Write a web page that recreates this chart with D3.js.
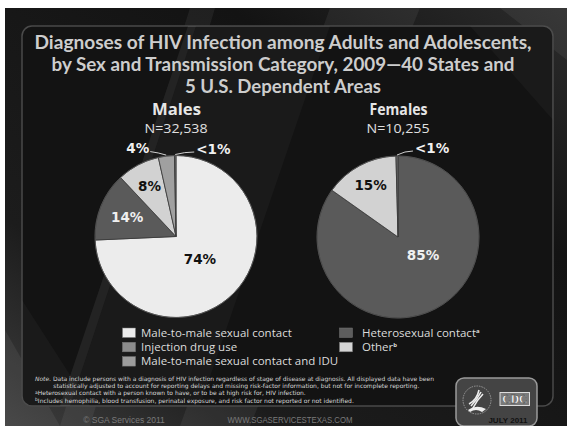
<!DOCTYPE html>
<html><head><meta charset="utf-8">
<script src="https://cdn.jsdelivr.net/npm/d3@7"></script>
<style>html,body{margin:0;padding:0;background:#fff;}svg{display:block;}</style>
</head><body>
<script>
// ---------------- DATA ----------------
const titleLines = ["Diagnoses of HIV Infection among Adults and Adolescents,",
  "by Sex and Transmission Category, 2009\u201440 States and",
  "5 U.S. Dependent Areas"];
const pieNames = ["Males", "Females"];
const pieTotals = ["N=32,538", "N=10,255"];
// Males, clockwise from 12 o'clock
const maleCategories = ["Male-to-male sexual contact", "Heterosexual contact", "Injection drug use", "Male-to-male sexual contact and IDU", "Other"];
const maleValues = [74.3, 13.7, 8.5, 3.2, 0.3];
const maleLabels = ["74%", "14%", "8%", "4%", "<1%"];
// Females, clockwise from 12 o'clock
const femaleCategories = ["Heterosexual contact", "Injection drug use", "Other"];
const femaleValues = [84.8, 14.8, 0.4];
const femaleLabels = ["85%", "15%", "<1%"];
// Legend
const legendCol1 = ["Male-to-male sexual contact", "Injection drug use", "Male-to-male sexual contact and IDU"];
const legendCol2 = ["Heterosexual contact", "Other"];
const legendSup = {"Heterosexual contact": "a", "Other": "b"};
const footnotes = [
  ["Note.", " Data include persons with a diagnosis of HIV infection regardless of stage of  disease at diagnosis.  All displayed data have been"],
  ["", "statistically adjusted to account for reporting delays  and missing risk-factor information, but not for incomplete reporting."],
  ["a", "Heterosexual contact with a person known to have, or to be at high risk for, HIV infection."],
  ["b", "Includes hemophilia, blood transfusion, perinatal exposure, and risk factor not reported  or not identified."]
];

// ---------------- STYLE ----------------
const sliceColor = {
  "Male-to-male sexual contact": "#ececec",
  "Heterosexual contact": "#5a5a5a",
  "Injection drug use": "#d2d2d2",
  "Male-to-male sexual contact and IDU": "#a0a0a0",
  "Other": "#6a6a6a"
};
const legendColor = {
  "Male-to-male sexual contact": "#ececec",
  "Injection drug use": "#8c8c8c",
  "Male-to-male sexual contact and IDU": "#9c9c9c",
  "Heterosexual contact": "#5d5d5d",
  "Other": "#d4d4d4"
};

const W = 567, H = 426;
const svg = d3.select("body").append("svg").attr("width", W).attr("height", H);

// background
svg.append("rect").attr("width", W).attr("height", H).attr("fill", "#ffffff");
const defs = svg.append("defs");
const bg = defs.append("linearGradient").attr("id", "bg").attr("x1", 0).attr("y1", 1).attr("x2", 1).attr("y2", 0);
bg.append("stop").attr("offset", 0).attr("stop-color", "#3e3e3e");
bg.append("stop").attr("offset", 0.25).attr("stop-color", "#1c1c1c");
bg.append("stop").attr("offset", 0.7).attr("stop-color", "#131313");
bg.append("stop").attr("offset", 1).attr("stop-color", "#2c2c2c");
svg.append("rect").attr("x", 5).attr("y", 8).attr("width", W - 5).attr("height", H - 8).attr("fill", "url(#bg)");
// diagonal streaks in outer background
const streaks = [
  [[190,8],[215,8],[90,426],[60,426]],
  [[330,8],[420,8],[250,426],[180,426]],
  [[500,8],[567,8],[567,60]],
  [[5,330],[60,426],[5,426]]
];
svg.selectAll(".streak").data(streaks).enter().append("polygon")
  .attr("points", d => d.map(p => p.join(",")).join(" "))
  .attr("fill", "#ffffff").attr("opacity", 0.06);

// panel
svg.append("rect").attr("x", 22).attr("y", 26).attr("width", 531).attr("height", 380)
  .attr("rx", 10).attr("fill", "#131313").attr("stroke", "#4a4a4a").attr("stroke-width", 1.5);
const clip = defs.append("clipPath").attr("id", "pc");
clip.append("rect").attr("x", 22).attr("y", 26).attr("width", 531).attr("height", 380).attr("rx", 10);
const bands = [
  [[188,26],[196,26],[70,406],[60,406]],
  [[196,26],[330,26],[200,406],[70,406]],
  [[470,26],[553,26],[553,120]],
  [[22,300],[90,406],[22,406]]
];
svg.append("g").attr("clip-path", "url(#pc)").selectAll("polygon").data(bands).enter().append("polygon")
  .attr("points", d => d.map(p => p.join(",")).join(" "))
  .attr("fill", "#ffffff").attr("opacity", (d, i) => i === 0 ? 0.07 : 0.03);

// title
const tW = [497, 463, 196];
svg.selectAll(".title").data(titleLines).enter().append("text")
  .attr("x", 283).attr("y", (d, i) => 49 + i * 21.8)
  .attr("text-anchor", "middle")
  .attr("font-family", "Lato, 'Open Sans', sans-serif").attr("font-weight", 700)
  .attr("font-size", 19).attr("fill", "#cdcdcd")
  .attr("textLength", (d, i) => tW[i]).attr("lengthAdjust", "spacingAndGlyphs")
  .text(d => d);

// pies
const R = 81;
const centers = [[176, 236.5], [398, 237]];
const pie = d3.pie().sort(null).value(d => d.v);
const arc = d3.arc().innerRadius(0).outerRadius(R);
// label placement config: [radial fraction, angle adjust (deg), text fill, outside?, dx, dy]
const labelCfg = [
  [[0.41, 0, "#111"], [0.65, 0, "#f0f0f0"], [0.70, 0, "#111"], [1.0, 0, "#f0f0f0", true, -16, -3.5], [1.0, 0, "#f0f0f0", true, 19, -2.5]],
  [[0.38, -27, "#f0f0f0"], [0.72, 0, "#111"], [1.0, 0, "#f0f0f0", true, 16, -4]]
];
const datasets = [
  maleCategories.map((c, i) => ({c, v: maleValues[i], l: maleLabels[i]})),
  femaleCategories.map((c, i) => ({c, v: femaleValues[i], l: femaleLabels[i]}))
];

datasets.forEach((data, k) => {
  const [cx, cy] = centers[k];
  const g = svg.append("g").attr("transform", `translate(${cx},${cy})`);
  const arcs = pie(data);
  g.selectAll("path").data(arcs).enter().append("path")
    .attr("d", arc).attr("fill", d => sliceColor[d.data.c])
    .attr("stroke", "#3a3a3a").attr("stroke-width", 0.8);
  g.append("circle").attr("r", R).attr("fill", "none").attr("stroke", "#555").attr("stroke-width", 0.8);

  arcs.forEach((a, i) => {
    const cfg = labelCfg[k][i];
    const mid = (a.startAngle + a.endAngle) / 2 + cfg[1] * Math.PI / 180;
    const ux = Math.sin(mid), uy = -Math.cos(mid);
    if (!cfg[3]) {
      g.append("text").attr("x", ux * R * cfg[0]).attr("y", uy * R * cfg[0])
        .attr("text-anchor", "middle").attr("dy", "0.36em")
        .attr("font-family", "'DejaVu Sans', Verdana, sans-serif").attr("font-weight", 700)
        .attr("font-size", 13.5).attr("fill", cfg[2]).text(a.data.l);
    } else {
      const sx = ux * (R + 1), sy = uy * (R + 1);
      const ex = sx + cfg[4], ey = sy + cfg[5];
      g.append("path")
        .attr("d", `M${sx},${sy} Q${(sx + ex) / 2},${ey + (cfg[4] > 0 ? 0 : 1)} ${ex},${ey}`)
        .attr("fill", "none").attr("stroke", "#cfcfcf").attr("stroke-width", 1);
      g.append("text").attr("x", ex + (cfg[4] > 0 ? 2 : -1)).attr("y", ey - 3)
        .attr("text-anchor", cfg[4] > 0 ? "start" : "end").attr("dy", "0.36em")
        .attr("font-family", "'DejaVu Sans', Verdana, sans-serif").attr("font-weight", 700)
        .attr("font-size", 13.5).attr("fill", cfg[2]).text(a.data.l);
    }
  });

  svg.append("text").attr("x", cx + 0.5).attr("y", 114.5).attr("text-anchor", "middle")
    .attr("font-family", "'Open Sans', sans-serif").attr("font-weight", 700)
    .attr("font-size", 16).attr("fill", "#e6e6e6")
    .attr("textLength", k === 0 ? 49 : 58).attr("lengthAdjust", "spacingAndGlyphs")
    .text(pieNames[k]);
  svg.append("text").attr("x", cx).attr("y", 133).attr("text-anchor", "middle")
    .attr("font-family", "'Open Sans', sans-serif")
    .attr("font-size", 12).attr("fill", "#e0e0e0")
    .attr("textLength", 63).attr("lengthAdjust", "spacingAndGlyphs")
    .text(pieTotals[k]);
});

// legend
function legendCol(items, x, tx) {
  const g = svg.append("g");
  items.forEach((name, i) => {
    const y = 328 + i * 14.3;
    g.append("rect").attr("x", x).attr("y", y).attr("width", 13).attr("height", 9.5)
      .attr("fill", legendColor[name]).attr("stroke", "#777").attr("stroke-width", 0.5);
    const t = g.append("text").attr("x", tx).attr("y", y + 8.5)
      .attr("font-family", "'Open Sans', sans-serif").attr("font-size", 11.5).attr("fill", "#dcdcdc");
    t.append("tspan").text(name);
    if (legendSup[name]) t.append("tspan").attr("dy", -4).attr("font-size", 6).attr("font-weight", 700).text(legendSup[name]);
  });
}
legendCol(legendCol1, 122.5, 141);
legendCol(legendCol2, 339.5, 362);

// footnotes
const fnX = [35, 53.3, 35, 35];
const fnW = [399, 366, 272, 320];
footnotes.forEach((f, i) => {
  const t = svg.append("text").attr("x", fnX[i]).attr("y", 381 + i * 7.2)
    .attr("font-family", "'DejaVu Sans', sans-serif").attr("font-size", 6)
    .attr("fill", "#d8d8d8");
  if (i === 0) {
    t.attr("textLength", fnW[i]).attr("lengthAdjust", "spacingAndGlyphs");
    t.append("tspan").attr("font-style", "italic").text(f[0]);
    t.append("tspan").text(f[1]);
  } else if (i === 1) {
    t.attr("textLength", fnW[i]).attr("lengthAdjust", "spacingAndGlyphs").text(f[1]);
  } else {
    t.append("tspan").attr("font-size", 4.5).attr("dy", -1.5).text(f[0]);
    t.append("tspan").attr("dy", 1.5).attr("textLength", fnW[i] - 4).attr("lengthAdjust", "spacingAndGlyphs").text(f[1]);
  }
});

// bottom credits
svg.append("text").attr("x", 124).attr("y", 423).attr("text-anchor", "middle")
  .attr("font-family", "'Liberation Sans', Arial, sans-serif").attr("font-size", 8.5).attr("fill", "#7a7a7a")
  .text("\u00a9 SGA Services 2011");
svg.append("text").attr("x", 290).attr("y", 423).attr("text-anchor", "middle")
  .attr("font-family", "'Liberation Sans', Arial, sans-serif").attr("font-size", 8.5).attr("fill", "#7a7a7a")
  .attr("textLength", 125).attr("lengthAdjust", "spacingAndGlyphs")
  .text("WWW.SGASERVICESTEXAS.COM");

// CDC/HHS badge
const badge = svg.append("g");
badge.append("rect").attr("x", 456).attr("y", 378).attr("width", 81).attr("height", 48).attr("rx", 8)
  .attr("fill", "#444444").attr("stroke", "#9a9a9a").attr("stroke-width", 1.5);
badge.append("circle").attr("cx", 477).attr("cy", 400).attr("r", 14)
  .attr("fill", "none").attr("stroke", "#9a9a9a").attr("stroke-width", 1).attr("stroke-dasharray", "1.5,1");
[[-8, 4, 2, -10], [-6, 6, 4, -8], [-4, 8, 6, -6]].forEach(s => {
  badge.append("path").attr("d", `M${477 + s[0]},${400 + s[1]} Q${477},${400} ${477 + s[2]},${400 + s[3]}`)
    .attr("fill", "none").attr("stroke", "#eeeeee").attr("stroke-width", 1.6);
});
badge.append("path").attr("d", "M468,410 Q476,404 486,409 L482,412 Q476,408 470,412 Z").attr("fill", "#eeeeee");
badge.append("rect").attr("x", 500).attr("y", 392.5).attr("width", 29.5).attr("height", 13)
  .attr("fill", "#7a7a7a").attr("stroke", "#dddddd").attr("stroke-width", 1);
badge.append("text").attr("x", 514.8).attr("y", 403.3).attr("text-anchor", "middle")
  .attr("font-family", "'Liberation Serif', serif").attr("font-weight", 700).attr("font-size", 11.5)
  .attr("fill", "#ffffff").attr("stroke", "#222").attr("stroke-width", 0.3).text("CDC");
badge.append("text").attr("x", 508).attr("y", 422.5).attr("text-anchor", "middle")
  .attr("font-family", "'Liberation Sans', Arial, sans-serif").attr("font-weight", 700).attr("font-size", 8)
  .attr("fill", "#111").text("JULY 2011");
</script>
</body></html>
